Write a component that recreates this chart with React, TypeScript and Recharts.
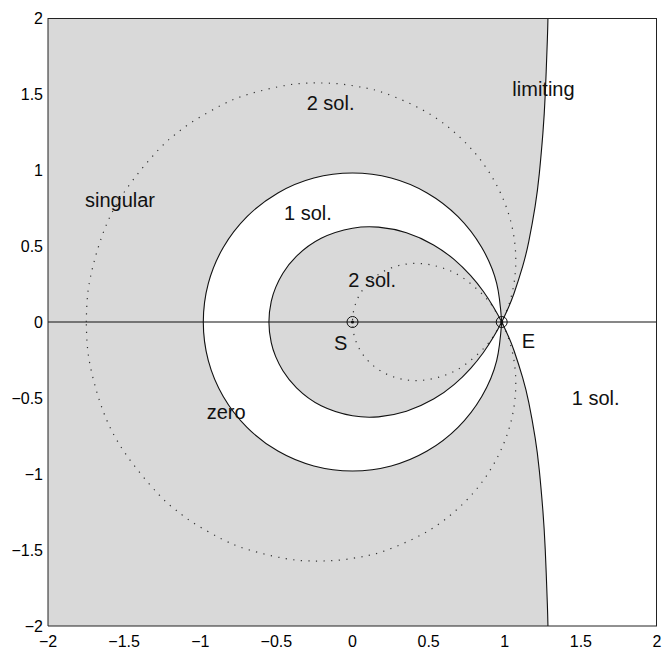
import { Area, CartesianGrid, ComposedChart, Line, Scatter, XAxis, YAxis } from "recharts";

type Pt = [number, number];

// zero circle, upper half, left crossing -> E
const zeroUpper: Pt[] = [
  [-0.98, 0], [-0.947, 0.254], [-0.849, 0.49], [-0.693, 0.693], [-0.49, 0.849],
  [-0.254, 0.947], [0, 0.98], [0.254, 0.947], [0.49, 0.849], [0.693, 0.693],
  [0.849, 0.49], [0.947, 0.254], [0.98, 0]
];

// limiting curve, inner loop (upper half), left end -> E
const limitInnerUpper: Pt[] = [
  [-0.549, 0], [-0.5337, 0.136], [-0.5045, 0.228], [-0.4572, 0.321], [-0.3676, 0.433],
  [-0.2057, 0.551], [0, 0.617], [0.1704, 0.624], [0.3543, 0.587], [0.5323, 0.507],
  [0.6687, 0.41], [0.7748, 0.306], [0.8586, 0.202], [0.9257, 0.099], [0.98, 0]
];

// limiting curve, outer branch (upper half), E -> past the top edge
const limitOuterUpper: Pt[] = [
  [0.98, 0], [1.0245, 0.096], [1.0612, 0.189], [1.1176, 0.366], [1.158, 0.531],
  [1.1995, 0.761], [1.227, 0.976], [1.2507, 1.244], [1.2659, 1.496], [1.2798, 1.855],
  [1.2837, 2.0], [1.287, 2.142]
];

// singular curve, outer branch (upper half), left end -> E
const singOuterUpper: Pt[] = [
  [-1.7485, 0], [-1.7444, 0.118], [-1.7207, 0.298], [-1.6389, 0.583], [-1.4941, 0.862],
  [-1.2738, 1.134], [-1.1515, 1.244], [-1.0519, 1.317], [-0.8619, 1.426], [-0.6837, 1.498],
  [-0.4377, 1.557], [-0.2511, 1.5726], [-0.0803, 1.566], [0.0754, 1.5417], [0.2167, 1.504],
  [0.4593, 1.396], [0.6535, 1.262], [0.8042, 1.112], [0.9166, 0.954], [0.9954, 0.795],
  [1.0448, 0.64], [1.0688, 0.491], [1.071, 0.351], [1.055, 0.221], [1.0237, 0.104], [0.98, 0]
];

// singular curve, small loop (upper half), S -> E
const singInnerUpper: Pt[] = [
  [0, 0], [0.013, 0.097], [0.0521, 0.189], [0.1168, 0.2695], [0.2057, 0.3337],
  [0.3164, 0.3742], [0.445, 0.3847], [0.5854, 0.3577], [0.7292, 0.2879],
  [0.8655, 0.1697], [0.9265, 0.0914], [0.98, 0]
];

const axisTicks = [-2, -1.5, -1, -0.5, 0, 0.5, 1, 1.5, 2];

const markerPoints = [
  { x: 0, y: 0 },
  { x: 0.98, y: 0 }
];

const notes = [
  { x: -0.301, y: 1.395, text: "2 sol." },
  { x: -1.757, y: 0.759, text: "singular" },
  { x: -0.45, y: 0.671, text: "1 sol." },
  { x: 1.05, y: 1.487, text: "limiting" },
  { x: -0.028, y: 0.228, text: "2 sol." },
  { x: -0.122, y: -0.184, text: "S" },
  { x: 1.111, y: -0.173, text: "E" },
  { x: -0.958, y: -0.64, text: "zero" },
  { x: 1.44, y: -0.546, text: "1 sol." }
];

const FONT = "'Liberation Sans', Arial, Helvetica, sans-serif";
const SHADE = "#d9d9d9";
const INK = "#111";

const mirror = (pts: Pt[]): Pt[] => pts.map(([x, y]) => [x, -y] as Pt);
const rev = (pts: Pt[]): Pt[] => [...pts].reverse();
const toXY = (pts: Pt[]) => pts.map(([x, y]) => ({ x, y }));
const toBand = (pts: Pt[]) => pts.map(([x, y]) => ({ x, band: [-y, y] }));

// closed loop starting and ending at E, where the marker hides the seam
const zeroLoop = toXY([...rev(zeroUpper), ...mirror(zeroUpper).slice(1)]);

// one smooth path: top -> E -> inner loop (lower, then upper) -> E -> bottom
const limitingPath = toXY([
  ...rev(limitOuterUpper),
  ...rev(mirror(limitInnerUpper)).slice(1),
  ...limitInnerUpper.slice(1),
  ...mirror(limitOuterUpper).slice(1)
]);

const singularPath = toXY([
  ...singOuterUpper,
  ...rev(mirror(singInnerUpper)).slice(1),
  ...singInnerUpper.slice(1),
  ...rev(mirror(singOuterUpper)).slice(1)
]);

const xAxisLine = toXY([[-2, 0], [2, 0]]);

// top and right sides of the box
const boxEdges = toXY([[-2, 2], [2, 2], [2, -2]]);

// everything right of x = 1.2837 lies outside the limiting curve
const rightStrip = [
  { x: 1.2837, band: [-2.2, 2.2] },
  { x: 2, band: [-2.2, 2.2] }
];

const fmt = (v: number) => (v < 0 ? `\u2212${-v}` : `${v}`);

function Marker(props: any) {
  const { cx, cy } = props;
  return (
    <g>
      <circle cx={cx} cy={cy} r={5.5} fill="none" stroke={INK} strokeWidth={1} />
      <circle cx={cx} cy={cy} r={1.6} fill={INK} />
    </g>
  );
}

function Note(props: any) {
  const { cx, cy, payload } = props;
  return (
    <text x={cx} y={cy} fontSize={20} fill={INK} fontFamily={FONT}>
      {payload.text}
    </text>
  );
}

export default function App() {
  const tickStyle = { fontSize: 16, fill: "#000", fontFamily: FONT };
  return (
    <div style={{ position: "absolute", left: 0, top: 0, width: 662, height: 649, background: "#fff", fontFamily: FONT }}>
      <ComposedChart width={662} height={649} margin={{ top: 18, right: 5, bottom: 3, left: 8 }}>
        <CartesianGrid horizontal={false} vertical={false} fill={SHADE} fillOpacity={1} />

        <Area data={toBand(zeroUpper)} dataKey="band" type="natural" stroke="none" fill="#fff" fillOpacity={1} isAnimationActive={false} activeDot={false} />
        <Area data={toBand(limitInnerUpper)} dataKey="band" type="natural" stroke="none" fill={SHADE} fillOpacity={1} isAnimationActive={false} activeDot={false} />
        <Area data={toBand(limitOuterUpper)} dataKey="band" type="natural" stroke="none" fill="#fff" fillOpacity={1} isAnimationActive={false} activeDot={false} />
        <Area data={rightStrip} dataKey="band" type="linear" stroke="none" fill="#fff" fillOpacity={1} isAnimationActive={false} activeDot={false} />

        <Line data={xAxisLine} dataKey="y" type="linear" stroke={INK} strokeWidth={1.1} dot={false} activeDot={false} isAnimationActive={false} />
        <Line data={singularPath} dataKey="y" type="natural" stroke="#333" strokeWidth={1.2} strokeDasharray="1.2 6.4" dot={false} activeDot={false} isAnimationActive={false} />
        <Line data={zeroLoop} dataKey="y" type="natural" stroke={INK} strokeWidth={1.1} dot={false} activeDot={false} isAnimationActive={false} />
        <Line data={limitingPath} dataKey="y" type="natural" stroke={INK} strokeWidth={1.1} dot={false} activeDot={false} isAnimationActive={false} />
        {/* half of this stroke falls outside the plot clip, leaving a 1px edge */}
        <Line data={boxEdges} dataKey="y" type="linear" stroke="#222" strokeWidth={2} dot={false} activeDot={false} isAnimationActive={false} />

        <Scatter data={markerPoints} dataKey="y" shape={<Marker />} isAnimationActive={false} />
        <Scatter data={notes} dataKey="y" shape={<Note />} isAnimationActive={false} />

        <XAxis
          dataKey="x"
          type="number"
          domain={[-2, 2]}
          ticks={axisTicks}
          interval={0}
          allowDataOverflow
          height={20}
          tickLine={false}
          tickSize={8}
          tickMargin={2}
          tickFormatter={fmt}
          tick={tickStyle}
          axisLine={{ stroke: "#222", strokeWidth: 1 }}
        />
        <YAxis
          type="number"
          domain={[-2, 2]}
          ticks={axisTicks}
          interval={0}
          allowDataOverflow
          width={40}
          tickLine={false}
          tickSize={3}
          tickMargin={2}
          tickFormatter={fmt}
          tick={tickStyle}
          axisLine={{ stroke: "#222", strokeWidth: 1 }}
        />
      </ComposedChart>
    </div>
  );
}
